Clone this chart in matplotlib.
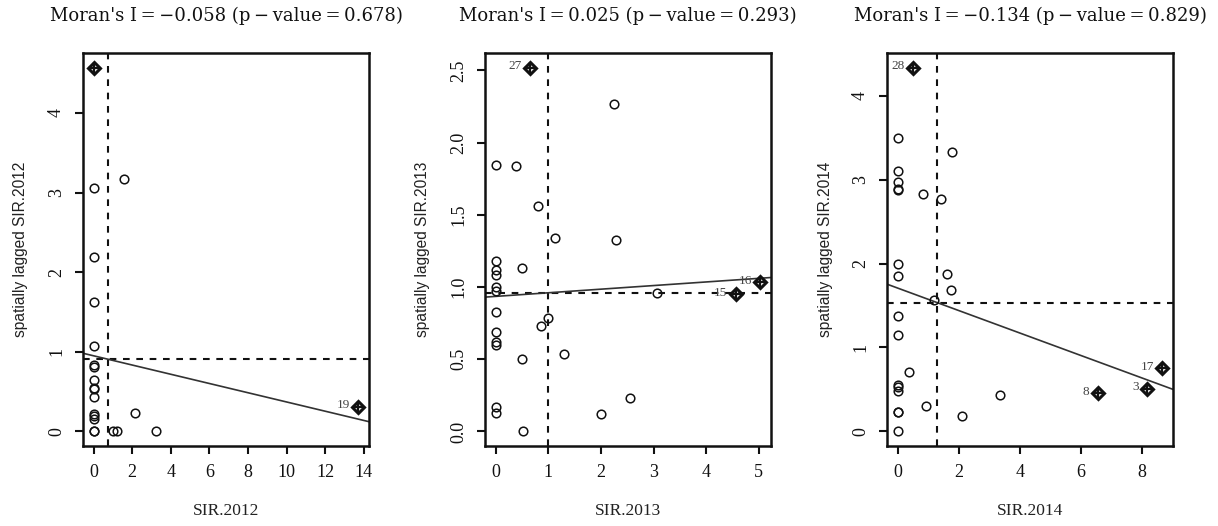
import matplotlib
matplotlib.use("Agg")
import matplotlib.pyplot as plt
from matplotlib import font_manager

# ---------------- data ----------------
years = ["2012", "2013", "2014"]
moran_I = [-0.058, 0.025, -0.134]
p_values = [0.678, 0.293, 0.829]

# panel 2012 (regular points)
x_2012 = [0, 0, 0, 0, 0, 0, 0, 0, 0, 0, 0, 0, 0, 0, 0, 1.56, 1.0, 1.2, 2.13, 3.24]
y_2012 = [3.06, 2.19, 1.62, 1.07, 0.83, 0.81, 0.65, 0.55, 0.53, 0.43, 0.22, 0.19, 0.16, 0.0, 0.0,
          3.17, 0.0, 0.0, 0.23, 0.0]
# influential points 2012
xi_2012 = [0.0, 13.72]
yi_2012 = [4.57, 0.31]
lab_2012 = ["", "19"]

# panel 2013
x_2013 = [2.25, 0, 0.38, 0.80, 1.12, 2.28, 0, 0, 0, 0.51, 0, 0, 3.06, 0, 1.0, 0.87, 0, 0, 0,
          0.5, 1.29, 2.55, 2.01, 0, 0, 0.525]
y_2013 = [2.27, 1.845, 1.84, 1.56, 1.34, 1.325, 1.18, 1.12, 1.08, 1.135, 1.0, 0.975, 0.96, 0.83,
          0.785, 0.73, 0.69, 0.62, 0.60, 0.50, 0.535, 0.23, 0.12, 0.17, 0.13, 0.0]
xi_2013 = [0.65, 5.03, 4.56]
yi_2013 = [2.52, 1.034, 0.95]
lab_2013 = ["27", "16", "15"]

# panel 2014
x_2014 = [0, 1.77, 0, 0, 0, 0, 0.82, 1.43, 0, 0, 1.60, 1.74, 1.18, 0, 0, 0.38, 0, 0, 0, 0, 0,
          0.94, 2.10, 3.35, 0]
y_2014 = [3.495, 3.33, 3.105, 2.97, 2.89, 2.87, 2.83, 2.77, 1.99, 1.85, 1.877, 1.68, 1.56, 1.376,
          1.153, 0.71, 0.557, 0.525, 0.485, 0.235, 0.227, 0.306, 0.187, 0.433, 0.0]
xi_2014 = [0.50, 6.55, 8.17, 8.66]
yi_2014 = [4.334, 0.453, 0.51, 0.75]
lab_2014 = ["28", "8", "3", "17"]

# mean reference lines
x_mean = [0.76, 0.99, 1.29]
y_mean = [0.906, 0.96, 1.535]

xticks = [[0, 2, 4, 6, 8, 10, 12, 14], [0, 1, 2, 3, 4, 5], [0, 2, 4, 6, 8]]
yticks = [[0, 1, 2, 3, 4], [0.0, 0.5, 1.0, 1.5, 2.0, 2.5], [0, 1, 2, 3, 4]]
ytick_labels = [["0", "1", "2", "3", "4"], ["0.0", "0.5", "1.0", "1.5", "2.0", "2.5"],
                ["0", "1", "2", "3", "4"]]

panels = [
    (x_2012, y_2012, xi_2012, yi_2012, lab_2012),
    (x_2013, y_2013, xi_2013, yi_2013, lab_2013),
    (x_2014, y_2014, xi_2014, yi_2014, lab_2014),
]

# ---------------- style ----------------
avail = {f.name for f in font_manager.fontManager.ttflist}
serif = "Liberation Serif" if "Liberation Serif" in avail else "DejaVu Serif"
narrow = "Liberation Sans Narrow" if "Liberation Sans Narrow" in avail else "Liberation Sans"

W, H = 1218, 526
fig = plt.figure(figsize=(W / 100, H / 100), dpi=100)
lefts = [83, 485, 887]
ax_w = 286
top_px, bot_px = 53, 446

ink = "#111111"
ts = "\u2009"

for i, (xs, ys, xi, yi, labs) in enumerate(panels):
    ax = fig.add_axes([lefts[i] / W, (H - bot_px) / H, ax_w / W, (bot_px - top_px) / H])
    allx = xs + xi
    ally = ys + yi
    rx = max(allx) - min(allx)
    ry = max(ally) - min(ally)
    ax.set_xlim(min(allx) - 0.04 * rx, max(allx) + 0.04 * rx)
    ax.set_ylim(min(ally) - 0.04 * ry, max(ally) + 0.04 * ry)

    ax.plot(xs, ys, linestyle="none", marker="o", markersize=6.2, markerfacecolor="none",
            markeredgecolor=ink, markeredgewidth=1.1, zorder=3)
    ax.plot(xi, yi, linestyle="none", marker="D", markersize=6.0, markerfacecolor="none",
            markeredgecolor=ink, markeredgewidth=2.2, zorder=4)
    ax.plot(xi, yi, linestyle="none", marker="+", markersize=8.0, markeredgecolor=ink,
            markeredgewidth=1.6, zorder=4)
    for xx, yy, lb in zip(xi, yi, labs):
        if lb:
            ax.annotate(lb, (xx, yy), xytext=(-6, 1), textcoords="offset points",
                        ha="right", va="center", fontsize=9.5, family=serif, color="#444444",
                        zorder=5)

    ax.axvline(x_mean[i], color=ink, linestyle=(0, (3.2, 3.2)), linewidth=1.5, zorder=2)
    ax.axhline(y_mean[i], color=ink, linestyle=(0, (3.2, 3.2)), linewidth=1.5, zorder=2)
    ax.axline((x_mean[i], y_mean[i]), slope=moran_I[i], color="#333333", linewidth=1.2, zorder=2)

    ax.set_xticks(xticks[i])
    ax.set_xticklabels([str(t) for t in xticks[i]], family=serif, fontsize=13, color=ink)
    ax.set_yticks(yticks[i])
    ax.set_yticklabels(ytick_labels[i], family=serif, fontsize=13, color=ink,
                       rotation=90, va="center")
    ax.tick_params(direction="out", length=6, width=1.5, pad=7, colors=ink)
    for s in ax.spines.values():
        s.set_linewidth(1.8)
        s.set_color(ink)

    ax.set_xlabel("SIR." + years[i], family=serif, fontsize=12.5, color="#222222", labelpad=16)
    ax.set_ylabel("spatially lagged SIR." + years[i], family=narrow, fontsize=11.2,
                  color="#222222", labelpad=14)
    num = ("\u2212%.3f" % abs(moran_I[i])) if moran_I[i] < 0 else "%.3f" % moran_I[i]
    title = "Moran's I" + ts + "=" + ts + num + " (p" + ts + "\u2212" + ts + "value" + ts + "=" + ts + "%.3f)" % p_values[i]
    ax.set_title(title, family=["DejaVu Serif"], fontsize=13, color=ink, pad=23)

fig.savefig("out.png", dpi=100, facecolor="white")
